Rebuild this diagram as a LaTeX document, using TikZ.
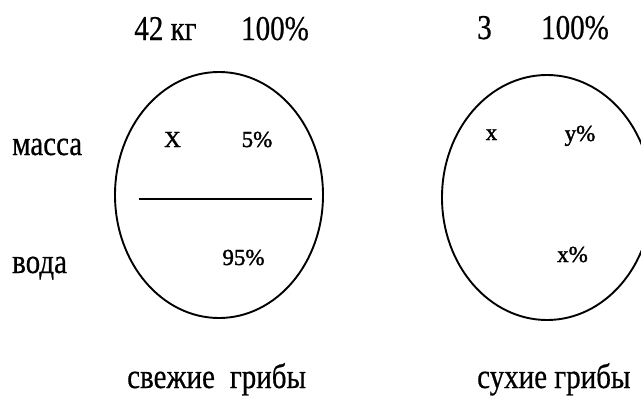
\documentclass[tikz,border=0pt]{standalone}
\usepackage{fontspec}
\setmainfont{Liberation Serif}
\newfontface\heavyface{Liberation Serif}[FakeBold=1.6]
\newfontface\midface{Liberation Serif}[FakeBold=0.6]
\usetikzlibrary{shapes.geometric}
\newcommand\tallbox[1]{\scalebox{1}[1.2]{#1}}
\begin{document}
\begin{tikzpicture}[x=1pt,y=-1pt,
  big/.style={font=\midface\fontsize{29}{34}\selectfont, inner sep=0pt, anchor=base},
  small/.style={font=\heavyface\fontsize{23}{27}\selectfont, inner sep=0pt, anchor=base},
  oval/.style={draw, ellipse, line width=1.9pt, inner sep=0pt}]
\useasboundingbox (0,0) rectangle (641,397);
\clip (0,0) rectangle (641,397);
% ellipses
\node[oval, minimum width=208pt, minimum height=246pt] (fresh) at (219,195) {};
\node[oval, minimum width=210pt, minimum height=245pt] (dry) at (547,197.5) {};
\coordinate (la) at (139,199);
\coordinate (lb) at (312,199);
\draw[line width=1.9pt] (la) -- (lb);
% top labels
\node[big] (m1) at (165.5,40) {\tallbox{42 кг}};
\node[big] (p1) at (275,40) {\tallbox{100\%}};
\node[big] (m2) at (484.5,39) {\tallbox{3}};
\node[big] (p2) at (575,39) {\tallbox{100\%}};
% side labels
\node[big, anchor=base west] (mass) at (12,155) {\tallbox{масса}};
\node[big, anchor=base west] (water) at (12,273) {\tallbox{вода}};
% inner labels
\node[small] (X) at (172.5,147) {X};
\node[small] (p5) at (257,147) {5\%};
\node[small] (p95) at (243.5,265) {95\%};
\node[small] (x) at (491.5,140) {x};
\node[small] (py) at (580,141) {y\%};
\node[small] (px) at (572.5,262) {x\%};
% bottom labels
\node[big, anchor=base west] (fr) at (127,388) {\tallbox{свежие\hspace{15pt}грибы}};
\node[big, anchor=base west] (dr) at (477,388) {\tallbox{сухие грибы}};
\end{tikzpicture}
\end{document}
